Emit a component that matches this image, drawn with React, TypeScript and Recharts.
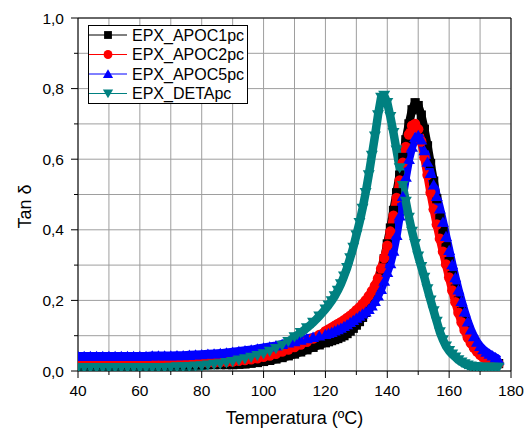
import { LineChart, Line, XAxis, YAxis, CartesianGrid, Legend } from 'recharts';

// temperature (°C): every 2 degrees up to 118, then every degree
const temps = [
  40, 42, 44, 46, 48, 50, 52, 54, 56, 58,
  60, 62, 64, 66, 68, 70, 72, 74, 76, 78,
  80, 82, 84, 86, 88, 90, 92, 94, 96, 98,
  100, 102, 104, 106, 108, 110, 112, 114, 116, 118,
  120, 121, 122, 123, 124, 125, 126, 127, 128, 129,
  130, 131, 132, 133, 134, 135, 136, 137, 138, 139,
  140, 141, 142, 143, 144, 145, 146, 147, 148, 149,
  150, 151, 152, 153, 154, 155, 156, 157, 158, 159,
  160, 161, 162, 163, 164, 165, 166, 167, 168, 169,
  170, 171, 172, 173, 174, 175, 176,
];

const apoc1 = [
  0.018, 0.018, 0.018, 0.018, 0.018, 0.018, 0.018, 0.018, 0.018, 0.018,
  0.018, 0.018, 0.018, 0.018, 0.018, 0.018, 0.018, 0.018, 0.018, 0.018,
  0.018, 0.018, 0.018, 0.018, 0.018, 0.018, 0.019, 0.020, 0.022, 0.024,
  0.027, 0.030, 0.034, 0.038, 0.043, 0.048, 0.054, 0.060, 0.067, 0.074,
  0.080, 0.083, 0.086, 0.089, 0.092, 0.096, 0.100, 0.106, 0.113, 0.121,
  0.130, 0.140, 0.152, 0.166, 0.182, 0.200, 0.222, 0.248, 0.280, 0.318,
  0.360, 0.405, 0.455, 0.505, 0.555, 0.605, 0.655, 0.700, 0.740, 0.760,
  0.752, 0.725, 0.685, 0.638, 0.588, 0.538, 0.488, 0.440, 0.395, 0.352,
  0.310, 0.270, 0.232, 0.198, 0.168, 0.140, 0.117, 0.097, 0.080, 0.066,
  0.055, 0.046, 0.039, 0.033, 0.028, 0.024, 0.021,
];

const apoc2 = [
  0.024, 0.024, 0.024, 0.024, 0.024, 0.024, 0.024, 0.024, 0.024, 0.024,
  0.024, 0.024, 0.024, 0.024, 0.024, 0.024, 0.024, 0.024, 0.024, 0.024,
  0.024, 0.024, 0.024, 0.025, 0.026, 0.027, 0.029, 0.031, 0.033, 0.036,
  0.040, 0.044, 0.049, 0.055, 0.061, 0.068, 0.075, 0.083, 0.092, 0.102,
  0.113, 0.118, 0.123, 0.128, 0.133, 0.138, 0.144, 0.150, 0.157, 0.164,
  0.172, 0.180, 0.190, 0.200, 0.212, 0.226, 0.242, 0.262, 0.290, 0.320,
  0.355, 0.395, 0.440, 0.490, 0.540, 0.590, 0.635, 0.670, 0.695, 0.700,
  0.685, 0.650, 0.605, 0.555, 0.505, 0.458, 0.415, 0.375, 0.338, 0.302,
  0.265, 0.228, 0.195, 0.165, 0.138, 0.115, 0.095, 0.079, 0.066, 0.055,
  0.046, 0.039, 0.033, 0.028, 0.025, 0.022, 0.020,
];

const apoc5 = [
  0.042, 0.042, 0.042, 0.042, 0.042, 0.042, 0.042, 0.042, 0.042, 0.042,
  0.042, 0.042, 0.043, 0.043, 0.043, 0.043, 0.044, 0.044, 0.045, 0.046,
  0.047, 0.048, 0.049, 0.050, 0.052, 0.054, 0.056, 0.058, 0.060, 0.063,
  0.066, 0.069, 0.072, 0.076, 0.080, 0.084, 0.088, 0.092, 0.096, 0.100,
  0.104, 0.107, 0.110, 0.114, 0.118, 0.122, 0.127, 0.132, 0.138, 0.144,
  0.150, 0.156, 0.162, 0.168, 0.175, 0.185, 0.198, 0.213, 0.232, 0.255,
  0.280, 0.305, 0.340, 0.385, 0.440, 0.495, 0.550, 0.600, 0.635, 0.662,
  0.668, 0.655, 0.625, 0.592, 0.560, 0.528, 0.495, 0.460, 0.422, 0.382,
  0.342, 0.302, 0.265, 0.230, 0.198, 0.168, 0.140, 0.117, 0.098, 0.082,
  0.070, 0.061, 0.054, 0.048, 0.043, 0.038, 0.032,
];

const deta = [
  0.009, 0.009, 0.009, 0.009, 0.009, 0.009, 0.009, 0.009, 0.009, 0.009,
  0.009, 0.009, 0.009, 0.009, 0.009, 0.010, 0.011, 0.011, 0.012, 0.013,
  0.014, 0.016, 0.018, 0.020, 0.023, 0.026, 0.030, 0.034, 0.038, 0.043,
  0.048, 0.055, 0.063, 0.072, 0.083, 0.096, 0.108, 0.122, 0.137, 0.155,
  0.175, 0.186, 0.198, 0.212, 0.228, 0.246, 0.268, 0.292, 0.320, 0.350,
  0.385, 0.420, 0.460, 0.505, 0.555, 0.610, 0.665, 0.725, 0.775, 0.780,
  0.760, 0.720, 0.675, 0.625, 0.575, 0.525, 0.480, 0.435, 0.395, 0.360,
  0.325, 0.295, 0.265, 0.232, 0.200, 0.170, 0.140, 0.110, 0.088, 0.070,
  0.057, 0.047, 0.039, 0.031, 0.025, 0.020, 0.016, 0.013, 0.012, 0.011,
  0.010, 0.010, 0.010, 0.010, 0.010, 0.010, 0.010,
];

const xTicks = [40, 50, 60, 70, 80, 90, 100, 110, 120, 130, 140, 150, 160, 170, 180];
const yTicks = [0, 0.1, 0.2, 0.3, 0.4, 0.5, 0.6, 0.7, 0.8, 0.9, 1.0];

const FONT = '"Liberation Sans", Arial, Helvetica, sans-serif';

const series = [
  { key: 'apoc1', name: 'EPX_APOC1pc', color: '#000000', shape: 'square' },
  { key: 'apoc2', name: 'EPX_APOC2pc', color: '#ff0000', shape: 'circle' },
  { key: 'apoc5', name: 'EPX_APOC5pc', color: '#0000ff', shape: 'up' },
  { key: 'deta', name: 'EPX_DETApc', color: '#008080', shape: 'down' },
];

const rows = temps.map((t, i) => ({
  t,
  apoc1: apoc1[i],
  apoc2: apoc2[i],
  apoc5: apoc5[i],
  deta: deta[i],
}));

function Marker({ shape, color, cx, cy, s = 1 }: { shape: string; color: string; cx: number; cy: number; s?: number }) {
  if (shape === 'circle') return <circle cx={cx} cy={cy} r={5.2 * s} fill={color} />;
  let d = '';
  if (shape === 'square') d = `M${cx - 4.6 * s},${cy - 4.6 * s}h${9.2 * s}v${9.2 * s}h${-9.2 * s}z`;
  if (shape === 'up') d = `M${cx},${cy - 5.5 * s}L${cx + 6 * s},${cy + 4.8 * s}L${cx - 6 * s},${cy + 4.8 * s}Z`;
  if (shape === 'down') d = `M${cx},${cy + 5.5 * s}L${cx + 6 * s},${cy - 4.8 * s}L${cx - 6 * s},${cy - 4.8 * s}Z`;
  return <path d={d} fill={color} />;
}

const dotFor = (shape: string, color: string) => (p: any) => {
  if (p.cx == null || p.cy == null) return <g key={`e-${p.index}`} />;
  return <Marker key={`m-${p.index}`} shape={shape} color={color} cx={p.cx} cy={p.cy} />;
};

function YTick({ x, y, payload }: any) {
  const v = payload.value as number;
  const major = Math.round(v * 10) % 2 === 0;
  return (
    <g>
      <line x1={x - (major ? 7 : 4)} x2={x} y1={y} y2={y} stroke="#000" />
      {major && (
        <text x={x - 14} y={y + 5.5} textAnchor="end" fontSize={15.5} fontFamily={FONT} fill="#000">
          {v.toFixed(1).replace('.', ',')}
        </text>
      )}
    </g>
  );
}

function XTick({ x, y, payload }: any) {
  const v = payload.value as number;
  const major = v % 20 === 0;
  return (
    <g>
      <line x1={x} x2={x} y1={y} y2={y + (major ? 7 : 4)} stroke="#000" />
      {major && (
        <text x={x} y={y + 25} textAnchor="middle" fontSize={15.5} fontFamily={FONT} fill="#000">
          {v}
        </text>
      )}
    </g>
  );
}

function LegendBox() {
  return (
    <svg width={160} height={79} style={{ display: 'block' }}>
      <rect x={0.5} y={0.5} width={159} height={78} fill="#fff" stroke="#000" />
      {series.map((s, i) => {
        const cy = 10 + i * 19.5;
        return (
          <g key={s.key}>
            <line x1={1} x2={39} y1={cy} y2={cy} stroke={s.color} strokeWidth={1} />
            <Marker shape={s.shape} color={s.color} cx={20} cy={cy} s={0.85} />
            <text x={44} y={cy + 5.7} fontSize={16} fontFamily={FONT} fill="#000">
              {s.name}
            </text>
          </g>
        );
      })}
    </svg>
  );
}

export default function App() {
  return (
    <div style={{ position: 'absolute', left: 0, top: 0, width: 530, height: 430, background: '#fff' }}>
      <LineChart width={530} height={430} data={rows} margin={{ top: 18, right: 19, bottom: 0, left: 0 }}>
        <CartesianGrid stroke="#9e9e9e" strokeWidth={1} />
        <XAxis
          dataKey="t"
          type="number"
          domain={[40, 180]}
          ticks={xTicks}
          allowDataOverflow
          height={59}
          tickSize={0}
          tickMargin={0}
          tickLine={false}
          tick={<XTick />}
          axisLine={{ stroke: '#000' }}
          interval={0}
          label={(props: any) => {
            const vb = props.viewBox || { x: 78, y: 371, width: 433 };
            return (
              <text x={vb.x + vb.width / 2} y={vb.y + 53} textAnchor="middle" fontSize={18} fontFamily={FONT} fill="#000">
                Temperatura (ºC)
              </text>
            );
          }}
        />
        <XAxis
          xAxisId="top"
          orientation="top"
          type="number"
          domain={[40, 180]}
          ticks={xTicks}
          allowDataOverflow
          mirror
          tick={false}
          tickSize={4}
          axisLine={{ stroke: '#000' }}
          tickLine={{ stroke: '#000' }}
          interval={0}
        />
        <YAxis
          type="number"
          domain={[0, 1]}
          ticks={yTicks}
          allowDataOverflow
          width={78}
          tickSize={0}
          tickMargin={0}
          tickLine={false}
          tick={<YTick />}
          axisLine={{ stroke: '#000' }}
          interval={0}
          label={(props: any) => {
            const vb = props.viewBox || { x: 0, y: 18, height: 353 };
            const cx = vb.x + 31;
            const cy = vb.y + vb.height / 2 + 12;
            return (
              <text x={cx} y={cy} transform={`rotate(-90 ${cx} ${cy})`} textAnchor="middle" fontSize={18} fontFamily={FONT} fill="#000">
                Tan δ
              </text>
            );
          }}
        />
        <YAxis
          yAxisId="right"
          orientation="right"
          type="number"
          domain={[0, 1]}
          ticks={yTicks}
          allowDataOverflow
          mirror
          tick={false}
          tickSize={4}
          axisLine={{ stroke: '#000' }}
          tickLine={{ stroke: '#000' }}
          interval={0}
        />
        <Legend
          layout="vertical"
          align="center"
          verticalAlign="middle"
          content={() => <LegendBox />}
          wrapperStyle={{ left: 88, top: 25, width: 160, height: 79 }}
        />
        {series.map((s) => (
          <Line
            key={s.key}
            type="linear"
            dataKey={s.key}
            name={s.name}
            stroke={s.color}
            strokeWidth={8.5}
            strokeLinejoin="round"
            dot={dotFor(s.shape, s.color)}
            activeDot={false}
            isAnimationActive={false}
          />
        ))}
      </LineChart>
    </div>
  );
}
